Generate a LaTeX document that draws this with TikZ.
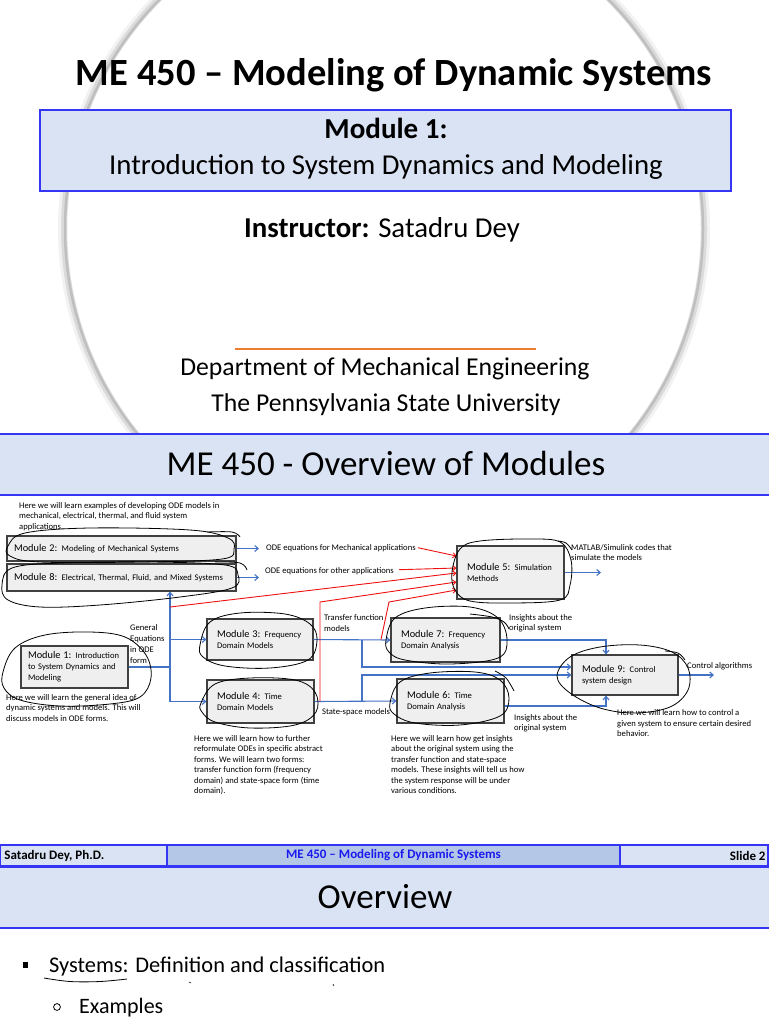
\documentclass[tikz,border=0pt]{standalone}
\usepackage{fontspec}
\setmainfont{Carlito}
\usetikzlibrary{arrows.meta,calc}
\definecolor{hdrfill}{HTML}{DAE3F3}
\definecolor{hdrline}{HTML}{3535F5}
\definecolor{oblue}{HTML}{4472C4}
\definecolor{ored}{HTML}{EE1111}
\definecolor{orng}{HTML}{ED7D31}
\definecolor{boxfill}{HTML}{EFEFEF}
\definecolor{midfill}{HTML}{B4C7E7}
\definecolor{ftxt}{HTML}{1A1AEE}
\newcommand{\smf}{\fontsize{8.6}{10.5}\selectfont}
\newcommand{\mdl}[1]{{\fontsize{10.3}{11}\selectfont Module #1:}}
\begin{document}
\begin{tikzpicture}[x=1pt,y=-1pt,
  mod/.style={draw=black!75,line width=1.1pt,fill=boxfill,inner xsep=10pt,inner ysep=0pt,align=left,font=\fontsize{8.6}{11}\selectfont},
  desc/.style={inner sep=0pt,align=left,font=\smf,anchor=base west},
  bl/.style={draw=oblue,line width=1.1pt},
  bla/.style={bl,-{Straight Barb[length=3.5pt,width=6pt]}},
  rda/.style={draw=ored,line width=0.9pt,-{Straight Barb[length=3pt,width=5pt]}},
  hand/.style={draw=black,line width=0.8pt},
  big/.style={inner sep=0pt,anchor=base},
  cell/.style={draw=hdrline,line width=1.5pt,inner sep=0pt},
]
\useasboundingbox (0,0) rectangle (768,1024);
\fill[white] (0,0) rectangle (768,1024);

% ---------------- slide 1 ----------------
\begin{scope}
\clip (0,0) rectangle (768,433);
\draw[gray!10,line width=10pt] (384,229) ellipse [x radius=321, y radius=325];
\draw[gray!28,line width=6pt] (384,229) ellipse [x radius=320, y radius=324];
\draw[gray!50,line width=2.5pt] (384,229) ellipse [x radius=319, y radius=323];
\fill[white] (384,229) ellipse [x radius=316.5, y radius=320.5];
\end{scope}

\node[big,font=\fontsize{38.5}{44}\selectfont\bfseries] (title) at (394,86) {ME 450 – Modeling of Dynamic Systems};
\node[draw=hdrline,line width=2pt,fill=hdrfill,minimum width=691,minimum height=81,inner sep=0pt] (mbox) at (385.5,150.5) {};
\node[big,font=\fontsize{29}{34}\selectfont\bfseries] (m1t) at (386,139) {Module 1:};
\node[big,font=\fontsize{28.8}{34}\selectfont] (m1s) at (386,175) {Introduction to System Dynamics and Modeling};
\node[big,font=\fontsize{28.8}{34}\selectfont] (instr) at (382,237) {\textbf{Instructor:} Satadru Dey};
\draw[orng,line width=2pt] (235,349) -- (536,349);
\node[big,font=\fontsize{25.7}{30}\selectfont] (dept) at (385,375) {Department of Mechanical Engineering};
\node[big,font=\fontsize{25.7}{30}\selectfont] (psu) at (386,411) {The Pennsylvania State University};

% ---------------- slide 2 header ----------------
\node[draw=hdrline,line width=2pt,fill=hdrfill,minimum width=772,minimum height=61,inner sep=0pt] (h2) at (384,464) {};
\node[big,font=\fontsize{35}{40}\selectfont] (h2t) at (386,475) {ME 450 - Overview of Modules};

% ---------------- modules ----------------
\node[mod,inner xsep=7pt,text width=215,minimum height=25] (m2) at (121.5,548.5) {\mdl{2} Modeling of Mechanical Systems};
\node[mod,inner xsep=7pt,text width=215,minimum height=27] (m8) at (121.5,577.5) {\mdl{8} Electrical, Thermal, Fluid, and Mixed Systems};
\node[mod,inner xsep=7pt,text width=93,minimum height=42] (m1) at (74.5,667) {\mdl{1} Introduction\\to System Dynamics and\\Modeling};
\node[mod,text width=86,minimum height=41] (m3) at (260,639.5) {\mdl{3} Frequency\\Domain Models};
\node[mod,text width=87,minimum height=43] (m4) at (260.5,701.5) {\mdl{4} Time\\Domain Models};
\node[mod,text width=89,minimum height=44] (m7) at (445.5,640) {\mdl{7} Frequency\\Domain Analysis};
\node[mod,text width=87,minimum height=44] (m6) at (450.5,701) {\mdl{6} Time\\Domain Analysis};
\node[mod,text width=86,minimum height=40] (m9) at (625,675) {\mdl{9} Control\\system design};
\node[mod,text width=87,minimum height=53] (m5) at (510.5,572.5) {\mdl{5} Simulation\\Methods};

% ---------------- labels (base = baseline of last line) ----------------
\node[desc] (lab1) at (266,550) {ODE equations for Mechanical applications};
\node[desc] (lab2) at (265,573) {ODE equations for other applications};
\node[desc] (matl) at (571,560.5) {MATLAB/Simulink codes that\\simulate the models};
\node[desc,font=\fontsize{8.6}{10.7}\selectfont] (gen) at (130,663) {General\\Equations\\in ODE\\form};
\node[desc] (tf) at (324,631) {Transfer function\\models};
\node[desc] (ss) at (322,714) {State-space models};
\node[desc] (ins1) at (509,630.5) {Insights about the\\original system};
\node[desc] (ins2) at (514,730.5) {Insights about the\\original system};
\node[desc] (ctrl) at (687,668) {Control algorithms};
\node[desc] (d0) at (19,529) {Here we will learn examples of developing ODE models in\\mechanical, electrical, thermal, and fluid system\\applications.};
\node[desc] (d1) at (6,721) {Here we will learn the general idea of\\dynamic systems and models. This will\\discuss models in ODE forms.};
\node[desc] (d34) at (194,793.5) {Here we will learn how to further\\reformulate ODEs in specific abstract\\forms. We will learn two forms:\\transfer function form (frequency\\domain) and state-space form (time\\domain).};
\node[desc] (d76) at (391,793.5) {Here we will learn how get insights\\about the original system using the\\transfer function and state-space\\models. These insights will tell us how\\the system response will be under\\various conditions.};
\node[desc] (d9) at (617,736.5) {Here we will learn how to control a\\given system to ensure certain desired\\behavior.};

% ---------------- blue connectors ----------------
\coordinate (e2) at (259,548.5);
\coordinate (e8) at (259,577.5);
\draw[bla] (m2.east) -- (e2);
\draw[bla] (m8.east) -- (e8);
\coordinate (b1) at (170,667);
\draw[bl] (m1.east) -- (b1);
\draw[bla] (b1) -- (b1 |- m8.south);
\draw[bla] (b1) |- (m4.west);
\draw[bla] (b1 |- m3.west) -- (m3.west);
\coordinate (b3) at (362,639.5);
\draw[bla] (m3.east) -- (m7.west);
\draw[bla] (m3.east -| b3) |- ([yshift=8pt]m9.west);
\draw[bla] (m4.east) -- (m6.west);
\draw[bla] (m4.east -| b3) |- (m9.west);
\draw[bla] (m7.east) -| ([xshift=-19pt]m9.north);
\draw[bla] ([yshift=-5pt]m6.east) -| ([xshift=-19pt]m9.south);
\coordinate (ce) at (714,675);
\draw[bla] (m9.east) -- (ce);
\coordinate (se) at (601,572.5);
\draw[bla] (m5.east) -- (se);

% ---------------- red connectors ----------------
\coordinate (r3s) at (170,607);
\coordinate (r4s) at (320,701.5);
\coordinate (r4k) at (320,602);
\coordinate (r5s) at (381,639.5);
\coordinate (r5k) at (389,602);
\draw[rda] ([xshift=2pt]lab1.east) -- ([yshift=16.5pt]m5.west);
\draw[rda] ([xshift=5pt,yshift=1pt]lab2.east) -- ([yshift=4.5pt]m5.west);
\draw[rda] (r3s) -- ([yshift=-0.5pt]m5.west);
\draw[rda] (r4s) -- (r4k) -- ([yshift=-9.5pt]m5.west);
\draw[rda] (r5s) -- (r5k) -- ([yshift=-17.5pt]m5.west);

% ---------------- hand-drawn annotations ----------------
\draw[hand] plot[smooth cycle,tension=0.6] coordinates {(8,546) (25,533) (90,528) (190,530) (228,538) (234,549) (222,559) (140,562) (40,562) (10,556)};
\draw[hand] plot[smooth,tension=0.6] coordinates {(207,532) (232,532) (240,537)};
\draw[hand] plot[smooth cycle,tension=0.6] coordinates {(2,585) (12,568) (60,563) (150,562) (225,565) (238,575) (232,588) (180,597) (100,605) (40,607) (8,600)};
\draw[hand] plot[smooth,tension=0.6] coordinates {(215,562) (240,563) (247,570)};
\draw[hand] plot[smooth cycle,tension=0.6] coordinates {(3,672) (15,648) (45,635) (90,632) (125,637) (146,655) (151,678) (140,697) (110,704) (60,706) (20,700) (4,688)};
\draw[hand] plot[smooth cycle,tension=0.6] coordinates {(200,645) (210,622) (240,613) (285,614) (310,624) (317,640) (308,660) (270,668) (225,666) (203,657)};
\draw[hand] plot[smooth cycle,tension=0.6] coordinates {(201,703) (215,684) (250,678) (295,680) (315,692) (316,712) (295,725) (250,728) (215,722) (202,712)};
\draw[hand] plot[smooth cycle,tension=0.6] coordinates {(386,640) (395,618) (425,608) (470,607) (498,618) (507,640) (498,658) (450,664) (405,660) (389,652)};
\draw[hand] plot[smooth,tension=0.6] coordinates {(470,614) (492,617) (504,622) (509,629)};
\draw[hand] plot[smooth cycle,tension=0.6] coordinates {(390,703) (400,682) (430,673) (475,672) (500,680) (509,698) (500,716) (460,725) (415,723) (394,714)};
\draw[hand] plot[smooth,tension=0.6] coordinates {(495,671) (506,678) (514,691)};
\draw[hand] plot[smooth cycle,tension=0.6] coordinates {(557,676) (570,657) (600,647) (640,645) (672,652) (688,668) (688,690) (670,707) (635,713) (600,708) (570,693)};
\draw[hand] plot[smooth,tension=0.6] coordinates {(665,651) (678,653) (685,660)};
\draw[hand] plot[smooth cycle,tension=0.6] coordinates {(452,572) (460,549) (480,541) (530,539) (560,542) (571,560) (570,585) (560,600) (510,603) (470,601) (455,590)};
\draw[hand] plot[smooth,tension=0.6] coordinates {(558,541) (566,543) (572,550)};

% ---------------- footer and slide 3 ----------------
\node[cell,fill=hdrfill,minimum width=167,minimum height=21] (fl) at (83.5,855.5) {};
\node[cell,fill=midfill,minimum width=453,minimum height=21] (fm) at (393.5,855.5) {};
\node[cell,fill=hdrfill,minimum width=148,minimum height=21] (fr) at (694,855.5) {};
\node[inner sep=0pt,anchor=west,font=\fontsize{13}{15}\selectfont\bfseries] (flt) at ([xshift=5pt]fl.west) {Satadru Dey, Ph.D.};
\node[inner sep=0pt,font=\fontsize{13}{15}\selectfont\bfseries,text=ftxt] (fmt) at (fm.center) {ME 450 – Modeling of Dynamic Systems};
\node[inner sep=0pt,anchor=east,font=\fontsize{13}{15}\selectfont\bfseries] (frt) at ([xshift=-3pt]fr.east) {Slide 2};
\node[draw=hdrline,line width=2pt,fill=hdrfill,minimum width=772,minimum height=61,inner sep=0pt] (h3) at (384,897) {};
\node[big,font=\fontsize{35}{40}\selectfont] (h3t) at (385,908) {Overview};

\fill[black] (22.5,962) rectangle (27.5,968);
\node[inner sep=0pt,anchor=base west,font=\fontsize{22.4}{26}\selectfont] (sys) at (49,972) {Systems: Definition and classification};
\draw[black,line width=0.8pt] plot[smooth,tension=0.6] coordinates {(44,978) (70,981.5) (100,981.5) (127,979)};
\draw[black,line width=0.6pt] (189,982) -- (191,983);
\draw[black,line width=0.6pt] (333,984) -- (334,986);
\draw[black,line width=0.8pt] (57,1007) circle [radius=3.4];
\node[inner sep=0pt,anchor=base west,font=\fontsize{22}{26}\selectfont] (ex) at (79,1013) {Examples};
\end{tikzpicture}
\end{document}
